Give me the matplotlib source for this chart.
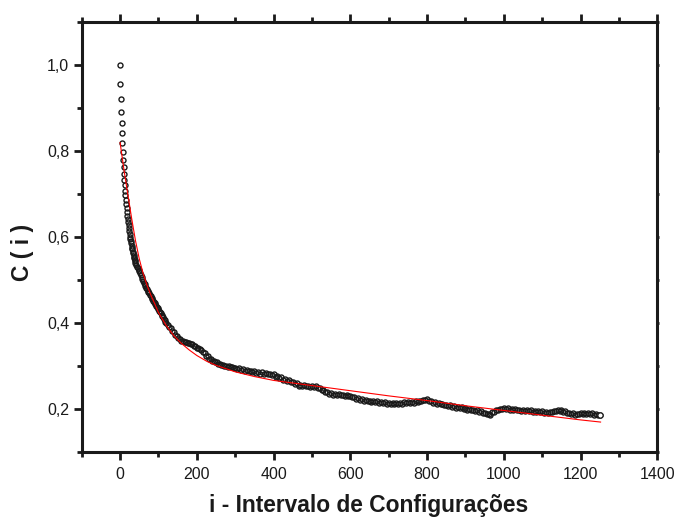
import numpy as np
import matplotlib
matplotlib.use('Agg')
import matplotlib.pyplot as plt
from matplotlib.ticker import MultipleLocator, FixedLocator, FuncFormatter

# C(i) data, in four index blocks
i_a = np.arange(0, 41, 1)
c_a = [1.000, 0.957, 0.921, 0.892, 0.866, 0.842, 0.819, 0.798, 0.779, 0.762,
       0.747, 0.733, 0.720, 0.708, 0.697, 0.686, 0.676, 0.667, 0.658, 0.650,
       0.642, 0.634, 0.627, 0.620, 0.613, 0.607, 0.601, 0.595, 0.590, 0.585,
       0.580, 0.575, 0.571, 0.566, 0.562, 0.558, 0.554, 0.550, 0.546, 0.543,
       0.539]
i_b = np.arange(42, 121, 2)
c_b = [0.535, 0.531, 0.527, 0.524, 0.520, 0.515, 0.511, 0.507, 0.502, 0.498,
       0.494, 0.491, 0.486, 0.482, 0.478, 0.475, 0.472, 0.469, 0.465, 0.462,
       0.458, 0.456, 0.452, 0.449, 0.446, 0.443, 0.440, 0.437, 0.435, 0.432,
       0.428, 0.425, 0.422, 0.419, 0.416, 0.413, 0.410, 0.406, 0.403, 0.400]
i_c = np.arange(124, 301, 4)
c_c = [0.396, 0.391, 0.387, 0.381, 0.378, 0.372, 0.369, 0.364, 0.362, 0.358,
       0.358, 0.355, 0.356, 0.353, 0.354, 0.351, 0.351, 0.347, 0.347, 0.342,
       0.342, 0.338, 0.337, 0.332, 0.330, 0.324, 0.322, 0.317, 0.316, 0.312,
       0.312, 0.308, 0.308, 0.304, 0.305, 0.301, 0.302, 0.299, 0.300, 0.298,
       0.299, 0.297, 0.298, 0.295, 0.296]
i_d = np.arange(305, 1251, 5)
c_d = [0.293, 0.295, 0.291, 0.292, 0.289, 0.291, 0.287, 0.289, 0.285, 0.287,
       0.283, 0.286, 0.282, 0.285, 0.281, 0.284, 0.280, 0.282, 0.278, 0.280,
       0.275, 0.276, 0.271, 0.273, 0.268, 0.270, 0.265, 0.267, 0.262, 0.263,
       0.258, 0.259, 0.254, 0.256, 0.253, 0.255, 0.252, 0.254, 0.251, 0.253,
       0.250, 0.252, 0.248, 0.249, 0.243, 0.244, 0.239, 0.240, 0.235, 0.237,
       0.233, 0.235, 0.232, 0.234, 0.231, 0.233, 0.230, 0.232, 0.229, 0.230,
       0.227, 0.228, 0.223, 0.225, 0.220, 0.222, 0.218, 0.220, 0.217, 0.219,
       0.216, 0.218, 0.215, 0.217, 0.214, 0.216, 0.213, 0.215, 0.212, 0.214,
       0.212, 0.213, 0.211, 0.213, 0.211, 0.214, 0.212, 0.215, 0.213, 0.216,
       0.214, 0.216, 0.214, 0.217, 0.215, 0.217, 0.217, 0.221, 0.220, 0.222,
       0.217, 0.218, 0.213, 0.215, 0.211, 0.213, 0.210, 0.212, 0.208, 0.209,
       0.206, 0.208, 0.204, 0.206, 0.202, 0.204, 0.201, 0.203, 0.199, 0.201,
       0.198, 0.199, 0.196, 0.198, 0.194, 0.196, 0.192, 0.194, 0.190, 0.191,
       0.187, 0.188, 0.186, 0.192, 0.193, 0.197, 0.197, 0.200, 0.199, 0.201,
       0.199, 0.201, 0.198, 0.200, 0.197, 0.199, 0.196, 0.198, 0.195, 0.197,
       0.195, 0.197, 0.194, 0.196, 0.193, 0.195, 0.193, 0.194, 0.192, 0.194,
       0.191, 0.193, 0.191, 0.193, 0.192, 0.195, 0.194, 0.197, 0.195, 0.197,
       0.193, 0.194, 0.189, 0.191, 0.187, 0.189, 0.186, 0.188, 0.187, 0.189,
       0.187, 0.190, 0.188, 0.190, 0.187, 0.189, 0.186, 0.188, 0.185, 0.185]

# red fit curve, read at a few points
fit_i = [0, 10, 20, 30, 40, 50, 60, 70, 80, 90, 100, 120, 140, 160, 180, 200,
         225, 250, 300, 350, 400, 500, 600, 700, 800, 900, 1000, 1100, 1200, 1252]
fit_c = [0.820, 0.757, 0.700, 0.644, 0.592, 0.549, 0.515, 0.488, 0.465, 0.445,
         0.424, 0.394, 0.370, 0.352, 0.337, 0.324, 0.311, 0.301, 0.286, 0.275,
         0.266, 0.254, 0.242, 0.230, 0.219, 0.207, 0.196, 0.185, 0.174, 0.169]

i_all = np.concatenate([i_a, i_b, i_c, i_d])
c_all = np.concatenate([c_a, c_b, c_c, c_d])

plt.rcParams['font.family'] = ['Liberation Sans', 'DejaVu Sans']

fig = plt.figure(figsize=(6.77, 5.19), dpi=100)
ax = fig.add_axes([0.1207, 0.1297, 0.8503, 0.8273])

ax.plot(i_all, c_all, 'o', markersize=3.6, markerfacecolor='none',
        markeredgecolor='#1a1a1a', markeredgewidth=1.0)
ax.plot(i_all[-1:], c_all[-1:], 'o', markersize=3.8, markerfacecolor='white',
        markeredgecolor='#1a1a1a', markeredgewidth=0.9)
ax.plot(fit_i, fit_c, '-', color='#ff0000', linewidth=0.8)

ax.set_xlim(-100, 1400)
ax.set_ylim(0.1, 1.1)
ax.xaxis.set_major_locator(MultipleLocator(200))
ax.xaxis.set_minor_locator(MultipleLocator(100))
ax.yaxis.set_major_locator(FixedLocator([0.2, 0.4, 0.6, 0.8, 1.0]))
ax.yaxis.set_minor_locator(MultipleLocator(0.1))
ax.yaxis.set_major_formatter(FuncFormatter(lambda v, p: ('%.1f' % v).replace('.', ',')))

for s in ax.spines.values():
    s.set_linewidth(2.2)
    s.set_color('#1a1a1a')

ax.tick_params(which='both', direction='out', top=True, right=True,
               width=2.0, color='#1a1a1a', labelsize=11.5, labelcolor='#1a1a1a')
ax.tick_params(which='major', length=6)
ax.tick_params(which='minor', length=3.5)
ax.tick_params(axis='y', which='major', pad=3)
ax.tick_params(axis='x', which='major', pad=5)
for t in ax.yaxis.get_major_ticks() + ax.yaxis.get_minor_ticks():
    t.tick2line.set_markersize(1.5)

ax.set_xlabel('i - Intervalo de Configurações', fontsize=16.4, fontweight='bold',
              color='#1a1a1a')
ax.set_ylabel('C ( i )', fontsize=16.4, fontweight='bold', color='#1a1a1a')
ax.xaxis.set_label_coords(0.499, -0.098)
ax.yaxis.set_label_coords(-0.083, 0.465)

fig.savefig('out.png', dpi=100, facecolor='white')
